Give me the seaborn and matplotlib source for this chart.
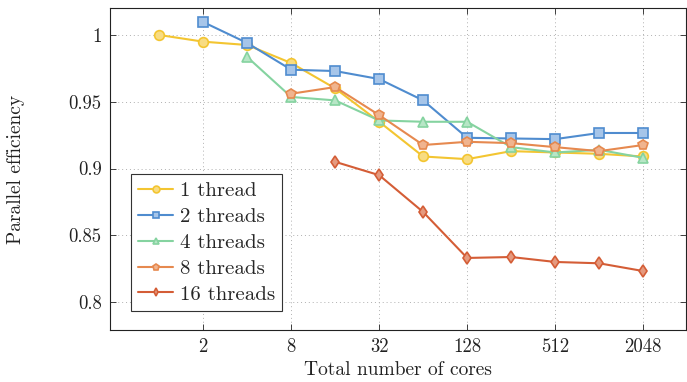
import pandas as pd
import matplotlib.pyplot as plt
import seaborn as sns

sns.set_theme(style="ticks")
plt.rcParams['font.family'] = 'serif'
plt.rcParams['font.serif'] = ['cmr10', 'DejaVu Serif']
plt.rcParams['mathtext.fontset'] = 'cm'
plt.rcParams['axes.formatter.use_mathtext'] = True

# data
cores = [1, 2, 4, 8, 16, 32, 64, 128, 256, 512, 1024, 2048]
eff_1 = [1.000, 0.995, 0.9925, 0.979, 0.960, 0.935, 0.909, 0.907, 0.913, 0.912, 0.911, 0.909]
eff_2 = [1.0097, 0.994, 0.974, 0.973, 0.967, 0.951, 0.923, 0.9225, 0.922, 0.9266, 0.9266]
eff_4 = [0.9835, 0.9536, 0.951, 0.936, 0.935, 0.935, 0.916, 0.912, 0.914, 0.908]
eff_8 = [0.956, 0.961, 0.940, 0.9176, 0.920, 0.919, 0.916, 0.913, 0.9176]
eff_16 = [0.905, 0.895, 0.8674, 0.833, 0.8337, 0.830, 0.829, 0.8232]

labels = ['1 thread', '2 threads', '4 threads', '8 threads', '16 threads']
series = [eff_1, eff_2, eff_4, eff_8, eff_16]
line_colors = ['#F3C531', '#4F8CCF', '#85D3A0', '#E6894F', '#D45D36']
face_colors = ['#F8DC82', '#A6C5E9', '#B7E6C6', '#F0B48F', '#E59A7F']
markers = ['o', 's', '^', 'p', 'd']
msizes = [7, 7, 7, 7, 6]

fig = plt.figure(figsize=(6.87, 3.82), dpi=100)
ax = fig.add_axes([0.160, 0.136, 0.838, 0.843])

for lab, vals, lc, fc, m, ms in zip(labels, series, line_colors, face_colors, markers, msizes):
    df = pd.DataFrame({'cores': cores[-len(vals):], 'eff': vals})
    sns.lineplot(data=df, x='cores', y='eff', ax=ax, color=lc, marker=m,
                 markersize=ms, markerfacecolor=fc, markeredgecolor=lc,
                 markeredgewidth=1.2, linewidth=1.5, label=lab)

ax.set_xscale('log', base=2)
ax.set_xlim(0.46, 4000)
ax.set_ylim(0.779, 1.0202)
xt = [2, 8, 32, 128, 512, 2048]
ax.set_xticks(xt)
ax.set_xticklabels([str(v) for v in xt])
ax.minorticks_off()
yt = [0.8, 0.85, 0.9, 0.95, 1.0]
ax.set_yticks(yt)
ax.set_yticklabels(['0.8', '0.85', '0.9', '0.95', '1'])
ax.tick_params(direction='in', top=True, right=True, length=4, width=0.6,
               labelsize=13.5, colors='#222222', pad=6)
ax.grid(True, linestyle=(0, (1, 3)), color='#b0b0b0', linewidth=0.7)
for s in ax.spines.values():
    s.set_color('#222222')
    s.set_linewidth(0.8)

ax.set_xlabel('Total number of cores', fontsize=14, color='#222222')
ax.set_ylabel('Parallel efficiency', fontsize=14, color='#222222')
ax.xaxis.set_label_coords(0.5, -0.097)
ax.yaxis.set_label_coords(-0.147, 0.5)

leg = ax.legend(loc='lower left', bbox_to_anchor=(0.036, 0.059), fontsize=15,
                frameon=True, fancybox=False, edgecolor='#333333',
                handlelength=1.7, borderpad=0.35, labelspacing=0.35,
                handletextpad=0.3, markerscale=0.7, borderaxespad=0)
leg.get_frame().set_linewidth(0.8)
leg.get_frame().set_alpha(1)

fig.savefig('out.png', dpi=100)
